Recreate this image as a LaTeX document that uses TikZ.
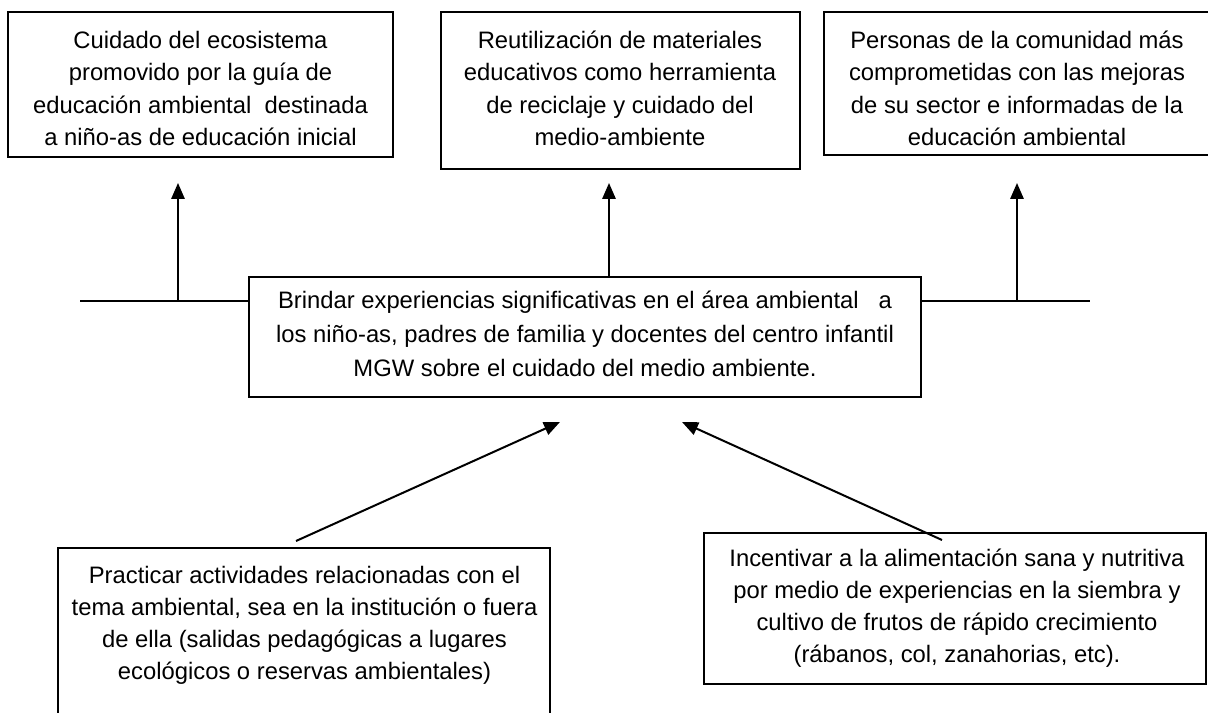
\documentclass[tikz,border=0pt]{standalone}
\usepackage{fontspec}
\setmainfont{Liberation Sans}
\usetikzlibrary{arrows.meta,fit}
\begin{document}
\begin{tikzpicture}[x=0.75pt,y=-0.75pt,
 box/.style={draw, line width=1.5pt, rectangle, inner sep=0pt},
 txt/.style={align=center, font=\fontsize{17.85}{24.3}\selectfont, inner sep=0pt},
 conn/.style={line width=1.5pt},
 arr/.style={line width=1.5pt, -{Triangle[length=12pt,width=10pt]}}]
\useasboundingbox (0,0) rectangle (1208,713);
\clip (0,0) rectangle (1208,713);
% boxes
\node[box, fit={(8,12) (393,157)}] (b1) {};
\node[box, fit={(441,12) (800,169)}] (b2) {};
\node[box, fit={(824,12) (1220,155)}] (b3) {};
\node[box, fit={(249,277) (921,397)}] (c) {};
\node[box, fit={(58,548) (550,730)}] (bl) {};
\node[box, fit={(704,533) (1206,684)}] (br) {};
% texts
\node[txt] (t1) at (200.5,88.5) {Cuidado del ecosistema\\promovido por la guía de\\educación ambiental\ \ destinada\\a niño-as de educación inicial};
\node[txt] (t2) at (620,88.5) {Reutilización de materiales\\educativos como herramienta\\de reciclaje y cuidado del\\medio-ambiente};
\node[txt] (t3) at (1017,88.5) {Personas de la comunidad más\\comprometidas con las mejoras\\de su sector e informadas de la\\educación ambiental};
\node[txt, font=\fontsize{17.85}{25.5}\selectfont] (tc) at (585,334) {Brindar experiencias significativas en el área ambiental\ \ \ a\\los niño-as, padres de familia y docentes del centro infantil\\MGW sobre el cuidado del medio ambiente.};
\node[txt, font=\fontsize{17.85}{24}\selectfont] (tbl) at (304.5,625) {Practicar actividades relacionadas con el\\tema ambiental, sea en la institución o fuera\\de ella (salidas pedagógicas a lugares\\ecológicos o reservas ambientales)};
\node[txt, font=\fontsize{17.85}{24}\selectfont] (tbr) at (957,608) {Incentivar a la alimentación sana y nutritiva\\por medio de experiencias en la siembra y\\cultivo de frutos de rápido crecimiento\\(rábanos, col, zanahorias, etc).};
% horizontal line
\coordinate (hl) at (80,301);
\coordinate (hr) at (1090,301);
\draw[conn] (hl) -- (hl -| c.west);
\draw[conn] (hr -| c.east) -- (hr);
% top arrows
\coordinate (a1s) at (178,301);
\coordinate (a1t) at (178,183);
\coordinate (a2s) at (609,277);
\coordinate (a2t) at (609,183);
\coordinate (a3s) at (1017,301);
\coordinate (a3t) at (1017,183);
\draw[arr] (a1s) -- (a1t);
\draw[arr] (a2s) -- (a2t);
\draw[arr] (a3s) -- (a3t);
% diagonal arrows
\coordinate (d1s) at (296,541);
\coordinate (d1t) at (560,422);
\coordinate (d2s) at (942,540);
\coordinate (d2t) at (682,422);
\draw[arr] (d1s) -- (d1t);
\draw[arr] (d2s) -- (d2t);
\end{tikzpicture}
\end{document}
